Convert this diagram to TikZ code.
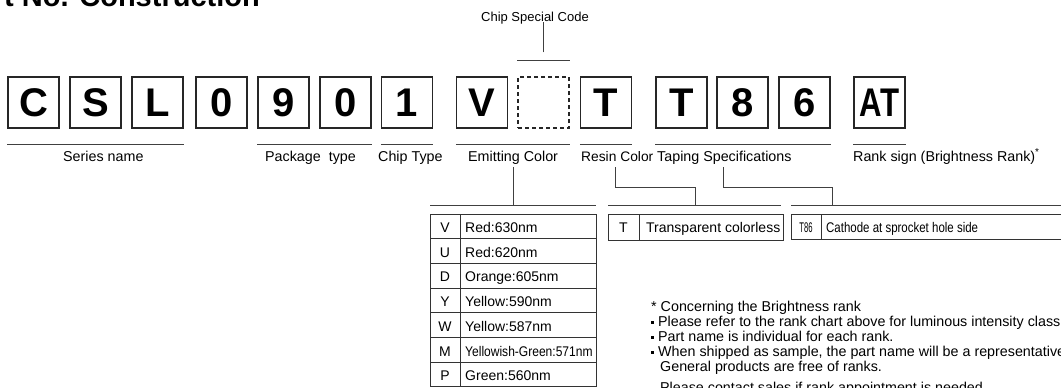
\documentclass[tikz,border=0pt]{standalone}
\usepackage{fontspec}
\setmainfont{Liberation Sans}
\usepackage{graphicx}
\newcommand\fsz[1]{\fontsize{#1}{#1}\selectfont}
\newcommand\bul{\makebox[7pt][l]{\raisebox{2.4pt}{\rule{3pt}{3pt}}}}
\begin{document}
\begin{tikzpicture}[x=1pt,y=-1pt,
  chbox/.style={draw=black!85,line width=1.1pt,minimum width=51pt,minimum height=51pt,inner sep=0pt,font=\fsz{40}\bfseries},
  lab/.style={font=\fsz{14.3},inner sep=0pt,anchor=base west},
  ln/.style={draw=black!75,line width=1pt},
  cellline/.style={draw=black!80,line width=0.9pt},
  celltxt/.style={font=\fsz{14},inner sep=0pt,anchor=base west},
  cellkey/.style={font=\fsz{14},inner sep=0pt,anchor=base},
  note/.style={font=\fsz{14.3},inner sep=0pt,anchor=base west}]
\useasboundingbox (0,0) rectangle (1061,388);
\clip (0,0) rectangle (1061,388);
\fill[white] (0,0) rectangle (1061,388);

% title (partly cut off at the top)
\node[font=\fsz{29}\bfseries,inner sep=0pt,anchor=base east] (title) at (260,6) {Part No. Construction};

% character boxes
\foreach \n/\x/\t in {1/33.5/C,2/95.5/S,3/157.5/L,4/221.5/0,5/283.5/9,6/345.5/0,7/407/1,8/482/V,10/606/T,11/681.5/T,12/742.5/8,13/804.5/6}
  \node[chbox] (b\n) at (\x,102.5) {\t};
\node[chbox,dash pattern=on 4pt off 3pt] (b9) at (543.5,102.5) {};
\node[chbox] (b14) at (879.5,102.5) {\scalebox{0.78}[1]{AT}};

% underlines
\foreach \a/\b in {b1/b3,b5/b6,b7/b7,b8/b9,b10/b10,b11/b13,b14/b14}
  \draw[ln] ([yshift=-16pt]\a.south west) -- ([yshift=-16pt]\b.south east);

% chip special code
\node[font=\fsz{13},inner sep=0pt,anchor=base] (csc) at (535,21) {Chip Special Code};
\draw[ln] ([yshift=16pt]b9.north west) -- ([yshift=16pt]b9.north east);
\draw[ln] ([yshift=24pt]b9.north) -- ([yshift=54pt]b9.north);

% labels
\node[lab] (lSer) at (63,161) {Series name};
\node[lab] (lPkg) at (265,161) {Package~~type};
\node[lab] (lChip) at (378,161) {Chip Type};
\node[lab] (lEmit) at (468,161) {Emitting Color};
\node[lab,font=\fsz{13.8}] (lRes) at (581,161) {Resin Color};
\node[lab] (lTap) at (657,161) {Taping Specifications};
\node[lab] (lRank) at (853,161) {Rank sign (Brightness Rank)\textsuperscript{*}};

% connectors
\coordinate (eTop) at (513,167);
\coordinate (eBar) at (513,205);
\draw[ln] (eTop) -- (eBar);
\draw[ln] (430,205) -- (596,205);
\coordinate (rTop) at (615,167);
\coordinate (rBar) at (695,205);
\draw[ln] (rTop) |- (695,187) -- (rBar);
\draw[ln] (608,205) -- (781,205);
\coordinate (tTop) at (723,167);
\coordinate (tBar) at (832,205);
\draw[ln] (tTop) |- (832,187) -- (tBar);
\draw[ln] (791,205) -- (1070,205);

% emitting colour table
\draw[cellline] (430,214) rectangle (596,386.9);
\draw[cellline] (460,214) -- (460,386.9);
\foreach \i in {1,...,6}
  \draw[cellline] (430,214+24.7*\i) -- (596,214+24.7*\i);
\foreach \c/\t [count=\i from 0] in {V/Red:630nm,U/Red:620nm,D/Orange:605nm,Y/Yellow:590nm,W/Yellow:587nm,M/{\scalebox{0.86}[1]{Yellowish-Green:571nm}},P/Green:560nm}{
  \node[cellkey] (ek\i) at (445,214+24.7*\i+18.5) {\c};
  \node[celltxt] (et\i) at (465,214+24.7*\i+18.5) {\t};
}

% resin colour table
\draw[cellline] (608,214) rectangle (783,240);
\draw[cellline] (639,214) -- (639,240);
\node[cellkey] (rk) at (623.5,232.5) {T};
\node[celltxt] (rt) at (646,232.5) {Transparent colorless};

% taping table
\draw[cellline] (791,214) rectangle (1070,239);
\draw[cellline] (821,214) -- (821,239);
\node[cellkey] (tk) at (806,232) {\scalebox{0.55}[1]{T86}};
\node[celltxt] (tt) at (826,232) {\scalebox{0.82}[1]{Cathode at sprocket hole side}};

% notes
\node[note] (n1) at (651,311) {* Concerning the Brightness rank};
\node[note] (n2) at (651,326) {\bul Please refer to the rank chart above for luminous intensity classification.};
\node[note] (n3) at (651,341) {\bul Part name is individual for each rank.};
\node[note] (n4) at (651,356) {\bul When shipped as sample, the part name will be a representative one.};
\node[note] (n5) at (660,371) {General products are free of ranks.};
\node[note] (n6) at (660,392) {Please contact sales if rank appointment is needed.};
\end{tikzpicture}
\end{document}
